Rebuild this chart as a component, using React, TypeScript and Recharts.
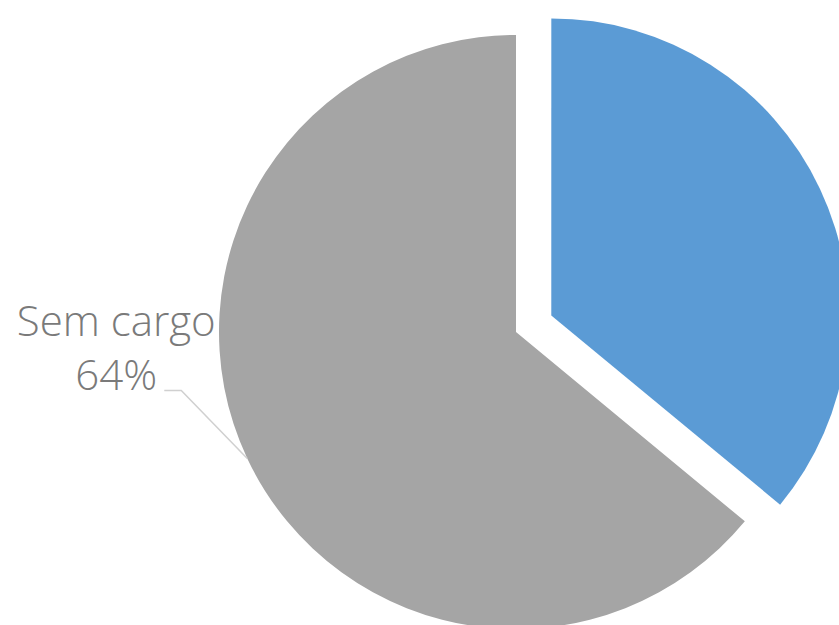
import React from 'react';
import { PieChart, Pie, Cell } from 'recharts';

const categories = ['Com cargo', 'Sem cargo'];
const shares = [36, 64];
const colors = ['#5B9BD5', '#A5A5A5'];

const data = categories.map((name, i) => ({ name, value: shares[i] }));

const CX = 516;
const CY = 332;
const R = 297;
const EXPLODE = 39;
const RAD = Math.PI / 180;

const total = shares.reduce((a, b) => a + b, 0);
const blueMid = 90 - (360 * shares[0]) / total / 2;
const bx = CX + EXPLODE * Math.cos(blueMid * RAD);
const by = CY - EXPLODE * Math.sin(blueMid * RAD);

const renderLabel = (props: any) => {
  const { cx, cy, outerRadius, midAngle, index, name, percent } = props;
  if (index !== 1) return null;
  const x0 = cx + outerRadius * Math.cos(-midAngle * RAD);
  const y0 = cy + outerRadius * Math.sin(-midAngle * RAD);
  const ex = x0 - 66;
  const ey = y0 - 68;
  const hx = ex - 17;
  const tx = hx - 48;
  return (
    <g>
      <polyline
        points={`${x0},${y0} ${ex},${ey} ${hx},${ey}`}
        fill="none"
        stroke="#D0D0D0"
        strokeWidth={1.5}
      />
      <text
        x={tx}
        y={ey - 54}
        textAnchor="middle"
        fill="#7a7a7a"
        fontFamily="'Open Sans', sans-serif"
        fontSize={42}
        fontWeight={300}
      >
        {name}
      </text>
      <text
        x={tx}
        y={ey}
        textAnchor="middle"
        fill="#7a7a7a"
        fontFamily="'Open Sans', sans-serif"
        fontSize={42}
        fontWeight={300}
      >
        {`${Math.round(percent * 100)}%`}
      </text>
    </g>
  );
};

export default function App() {
  return (
    <div style={{ position: 'absolute', left: 0, top: 0, width: 839, height: 625, background: '#fff' }}>
      <PieChart width={839} height={625} margin={{ top: 0, right: 0, bottom: 0, left: 0 }}>
        <Pie
          data={data}
          dataKey="value"
          nameKey="name"
          cx={CX}
          cy={CY}
          outerRadius={R}
          startAngle={90}
          endAngle={-270}
          stroke="none"
          isAnimationActive={false}
          label={renderLabel}
          labelLine={false}
        >
          {data.map((d, i) => (
            <Cell key={d.name} fill={i === 1 ? colors[1] : 'none'} />
          ))}
        </Pie>
        <Pie
          data={data}
          dataKey="value"
          nameKey="name"
          cx={bx}
          cy={by}
          outerRadius={R}
          startAngle={90}
          endAngle={-270}
          stroke="none"
          isAnimationActive={false}
        >
          {data.map((d, i) => (
            <Cell key={d.name} fill={i === 0 ? colors[0] : 'none'} />
          ))}
        </Pie>
      </PieChart>
    </div>
  );
}
